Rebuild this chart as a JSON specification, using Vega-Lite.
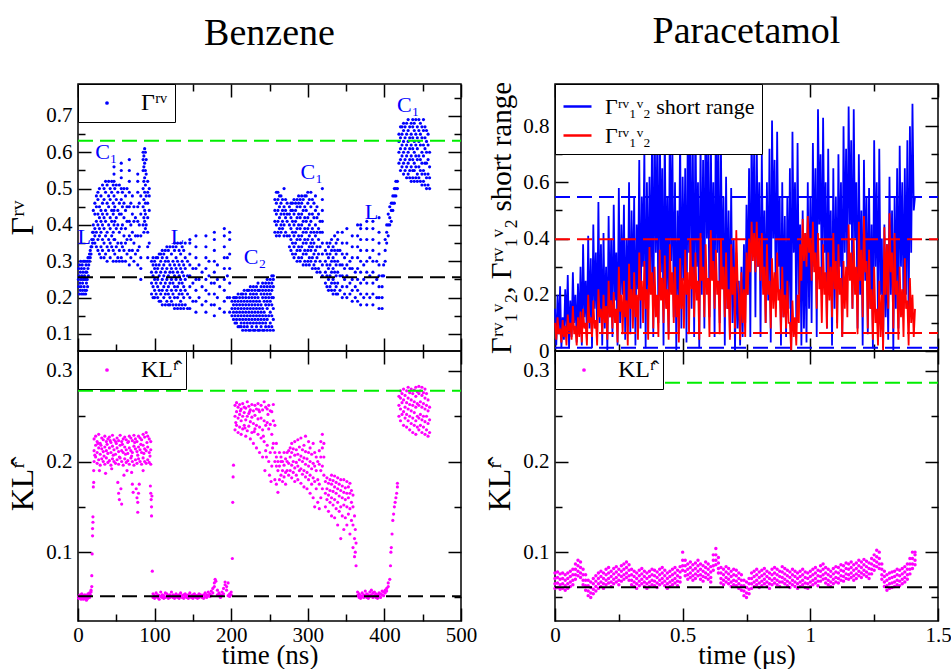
{
"$schema":"https://vega.github.io/schema/vega-lite/v6.json",
"background":"white",
"padding":{"left":6,"top":12,"right":2,"bottom":0},
"config":{"font":"Liberation Serif","view":{"stroke":"black","strokeWidth":1.5},
"axis":{"labelFont":"Liberation Serif","titleFont":"Liberation Serif","labelColor":"black","titleColor":"black","titleFontWeight":"normal","grid":false,"labelFontSize":21,"labelFlush":false,"labelOverlap":false,"titleLimit":1000},
"legend":{"orient":"top-left","offset":0,"strokeColor":"black","fillColor":"white","padding":7,"labelFont":"Liberation Serif","labelFontSize":24,"labelColor":"black","labelLimit":400,"cornerRadius":0},
"title":{"font":"Liberation Serif","fontSize":38,"fontWeight":"normal","color":"black","anchor":"middle"}},
"spacing":5,
"resolve":{"scale":{"color":"independent"}},
"hconcat":[
{"spacing":0,
"bounds":"flush",
"resolve":{"scale":{"color":"independent"}},
"vconcat":[
{"width":383,"height":267,
"title":{"text":"Benzene","anchor":"middle","frame":"group","offset":30},
"resolve":{"axis":{"x":"independent","y":"independent"}},
"layer":[
{"data":{"values":"t,y\n0.5,.25\n1,.28\n1,.23\n1.5,.26\n2,.21\n2,.29\n2.5,.24\n3,.27\n3,.22\n3.5,.3\n4,.25\n4,.23\n4.5,.28\n5,.21\n5,.26\n5.5,.29\n6,.24\n6,.22\n6.5,.27\n7,.3\n7,.25\n7.5,.21\n8,.28\n8,.23\n8.5,.26\n9,.3\n9,.22\n9.5,.25\n10,.27\n10,.21\n10.5,.29\n11,.24\n11,.22\n11.5,.27\n12,.3\n12,.25\n12.5,.23\n13,.28\n13,.31\n13.5,.26\n14,.29\n14,.31\n15,.3\n15,.32\n16,.31\n16,.33\n17,.34\n17,.32\n18,.36\n18,.34\n19,.38\n19,.35\n20,.36\n20,.4\n20,.44\n20,.38\n22,.35\n22,.39\n22,.43\n22,.46\n22,.37\n24,.34\n24,.38\n24,.41\n24,.45\n24,.48\n26,.33\n26,.36\n26,.4\n26,.43\n26,.47\n26,.49\n28,.32\n28,.37\n28,.42\n28,.45\n28,.5\n28,.39\n30,.34\n30,.38\n30,.41\n30,.44\n30,.48\n30,.31\n32,.33\n32,.36\n32,.4\n32,.46\n32,.51\n32,.43\n34,.31\n34,.35\n34,.39\n34,.42\n34,.47\n34,.5\n36,.32\n36,.37\n36,.41\n36,.44\n36,.49\n36,.52\n38,.3\n38,.34\n38,.38\n38,.43\n38,.46\n38,.51\n40,.33\n40,.36\n40,.4\n40,.45\n40,.48\n40,.52\n42,.31\n42,.35\n42,.39\n42,.42\n42,.47\n42,.5\n44,.34\n44,.37\n44,.41\n44,.44\n44,.49\n44,.52\n46,.3\n46,.33\n46,.38\n46,.43\n46,.46\n46,.51\n47,.36\n47,.4\n47,.44\n47,.48\n47,.52\n47,.54\n47,.56\n48,.32\n48,.36\n48,.41\n48,.45\n48,.5\n50,.3\n50,.34\n50,.39\n50,.42\n50,.47\n50,.51\n52,.31\n52,.35\n52,.4\n52,.44\n52,.49\n54,.3\n54,.33\n54,.38\n54,.43\n54,.46\n54,.51\n56.5,.31\n56.5,.35\n56.5,.39\n56.5,.43\n56.5,.47\n56.5,.5\n56.5,.53\n56.5,.55\n56.5,.57\n58,.3\n58,.34\n58,.4\n58,.45\n58,.49\n60,.33\n60,.37\n60,.42\n60,.46\n60,.5\n62,.3\n62,.35\n62,.39\n62,.44\n62,.48\n64,.32\n64,.36\n64,.41\n64,.45\n64,.5\n67,.29\n67,.33\n67,.37\n67,.41\n67,.45\n67,.49\n67,.52\n67,.55\n67,.58\n69,.31\n69,.36\n69,.4\n69,.46\n71,.33\n71,.38\n71,.43\n71,.48\n73,.3\n73,.35\n73,.41\n73,.45\n75,.32\n75,.37\n75,.42\n78,.29\n78,.33\n78,.37\n78,.41\n78,.45\n78,.49\n78,.52\n78,.54\n80,.34\n80,.4\n80,.46\n82,.25\n82,.28\n82,.31\n82,.37\n82,.43\n82,.48\n85,.4\n85,.45\n85,.5\n85,.55\n85,.58\n85,.6\n86,.38\n86,.42\n86,.47\n86,.52\n86,.56\n86,.59\n87,.41\n87,.44\n87,.49\n87,.53\n87,.57\n87,.61\n88,.39\n88,.43\n88,.46\n88,.51\n88,.55\n88,.6\n89,.4\n89,.48\n89,.54\n89,.58\n91,.31\n91,.34\n91,.38\n91,.42\n91,.46\n91,.49\n91,.52\n93,.35\n93,.44\n93,.48\n93,.5\n96,.21\n96,.24\n96,.27\n96,.3\n98,.2\n98,.23\n98,.26\n98,.29\n98,.31\n100,.2\n100,.22\n100,.25\n100,.28\n100,.3\n102,.21\n102,.24\n102,.27\n102,.29\n102,.31\n104,.2\n104,.23\n104,.25\n104,.28\n104,.31\n106,.19\n106,.22\n106,.26\n106,.29\n106,.32\n108,.19\n108,.21\n108,.24\n108,.27\n108,.3\n108,.32\n110,.18\n110,.22\n110,.25\n110,.28\n110,.31\n110,.33\n112,.2\n112,.23\n112,.26\n112,.29\n112,.32\n114,.18\n114,.21\n114,.24\n114,.27\n114,.3\n114,.33\n116,.19\n116,.22\n116,.25\n116,.28\n116,.31\n116,.34\n118,.18\n118,.21\n118,.23\n118,.26\n118,.3\n118,.33\n120,.18\n120,.2\n120,.24\n120,.27\n120,.29\n120,.34\n122,.19\n122,.22\n122,.25\n122,.28\n122,.32\n124,.18\n124,.21\n124,.24\n124,.27\n124,.3\n124,.34\n126,.17\n126,.2\n126,.23\n126,.26\n126,.29\n126,.33\n126,.35\n128,.18\n128,.22\n128,.25\n128,.28\n128,.31\n128,.34\n130,.17\n130,.2\n130,.23\n130,.27\n130,.3\n130,.35\n132,.18\n132,.21\n132,.24\n132,.26\n132,.29\n132,.33\n134,.17\n134,.19\n134,.22\n134,.25\n134,.28\n134,.32\n134,.35\n136,.18\n136,.21\n136,.24\n136,.27\n136,.3\n136,.34\n138,.17\n138,.2\n138,.23\n138,.26\n138,.29\n138,.33\n140,.18\n140,.22\n140,.25\n140,.28\n140,.31\n140,.35\n143,.17\n143,.21\n143,.26\n143,.3\n146,.17\n146,.2\n146,.23\n146,.26\n146,.29\n146,.32\n146,.35\n146,.36\n150,.19\n150,.24\n150,.28\n154,.16\n154,.19\n154,.22\n154,.25\n154,.28\n154,.31\n154,.34\n154,.37\n158,.2\n158,.25\n158,.29\n162,.18\n162,.23\n162,.27\n167,.16\n167,.19\n167,.22\n167,.25\n167,.28\n167,.31\n167,.34\n167,.37\n171,.21\n171,.26\n171,.3\n174,.18\n174,.24\n178,.15\n178,.18\n178,.21\n178,.24\n178,.27\n178,.3\n178,.33\n178,.36\n178,.38\n182,.2\n182,.25\n182,.29\n185,.17\n185,.23\n191,.16\n191,.19\n191,.22\n191,.25\n191,.28\n191,.31\n191,.34\n191,.37\n191,.39\n195,.2\n195,.26\n195,.31\n198,.16\n198,.2\n198,.24\n198,.28\n198,.32\n198,.36\n198,.38\n201,.15\n201,.17\n201,.19\n203,.14\n203,.16\n203,.18\n203,.2\n205,.13\n205,.15\n205,.17\n205,.19\n205,.2\n207,.13\n207,.14\n207,.16\n207,.18\n207,.2\n209,.12\n209,.15\n209,.17\n209,.19\n209,.21\n211,.12\n211,.14\n211,.16\n211,.18\n211,.2\n213,.12\n213,.13\n213,.15\n213,.17\n213,.19\n213,.21\n215,.11\n215,.14\n215,.16\n215,.18\n215,.2\n215,.21\n217,.12\n217,.13\n217,.15\n217,.17\n217,.19\n217,.22\n219,.11\n219,.14\n219,.16\n219,.18\n219,.2\n219,.21\n221,.12\n221,.13\n221,.15\n221,.17\n221,.19\n221,.22\n223,.11\n223,.14\n223,.16\n223,.18\n223,.2\n223,.22\n225,.11\n225,.13\n225,.15\n225,.17\n225,.19\n225,.21\n225,.23\n227,.12\n227,.14\n227,.16\n227,.18\n227,.2\n227,.22\n229,.11\n229,.13\n229,.15\n229,.17\n229,.19\n229,.21\n229,.23\n231,.11\n231,.14\n231,.16\n231,.18\n231,.2\n231,.22\n233,.12\n233,.13\n233,.15\n233,.17\n233,.19\n233,.21\n233,.23\n235,.11\n235,.14\n235,.16\n235,.18\n235,.2\n235,.22\n235,.24\n237,.11\n237,.13\n237,.15\n237,.17\n237,.19\n237,.22\n239,.12\n239,.14\n239,.16\n239,.18\n239,.21\n239,.23\n241,.11\n241,.13\n241,.15\n241,.17\n241,.2\n241,.22\n241,.24\n243,.11\n243,.14\n243,.16\n243,.19\n243,.21\n243,.23\n245,.12\n245,.13\n245,.15\n245,.18\n245,.2\n245,.22\n245,.24\n247,.11\n247,.14\n247,.17\n247,.19\n247,.21\n247,.23\n247,.25\n249,.12\n249,.15\n249,.18\n249,.2\n249,.22\n249,.24\n251,.11\n251,.13\n251,.16\n251,.19\n251,.21\n251,.23\n251,.25\n253,.12\n253,.15\n253,.18\n253,.2\n253,.22\n253,.24\n253,.26\n255,.11\n255,.14\n255,.17\n255,.2\n255,.23\n255,.25\n255,.26\n257,.38\n257,.41\n257,.44\n257,.47\n259,.37\n259,.4\n259,.43\n259,.46\n259,.49\n261,.38\n261,.41\n261,.44\n261,.47\n261,.49\n263,.37\n263,.39\n263,.42\n263,.45\n263,.48\n265,.38\n265,.4\n265,.43\n265,.46\n265,.48\n267,.39\n267,.41\n267,.44\n267,.47\n269,.37\n269,.4\n269,.43\n269,.45\n269,.5\n271,.38\n271,.42\n271,.44\n271,.47\n273,.37\n273,.41\n273,.43\n273,.46\n276,.34\n276,.37\n276,.4\n276,.43\n276,.45\n278,.33\n278,.36\n278,.39\n278,.42\n278,.44\n278,.46\n280,.32\n280,.35\n280,.38\n280,.41\n280,.44\n280,.46\n282,.31\n282,.34\n282,.37\n282,.4\n282,.43\n282,.47\n284,.32\n284,.35\n284,.38\n284,.41\n284,.44\n284,.46\n286,.3\n286,.33\n286,.36\n286,.39\n286,.42\n286,.45\n286,.47\n288,.31\n288,.34\n288,.37\n288,.4\n288,.43\n288,.46\n288,.48\n290,.3\n290,.33\n290,.36\n290,.39\n290,.42\n290,.45\n290,.47\n292,.31\n292,.34\n292,.37\n292,.4\n292,.43\n292,.46\n292,.48\n294,.29\n294,.32\n294,.35\n294,.38\n294,.41\n294,.44\n294,.47\n296,.3\n296,.33\n296,.36\n296,.39\n296,.42\n296,.45\n296,.48\n298,.29\n298,.32\n298,.35\n298,.38\n298,.41\n298,.44\n298,.48\n300,.3\n300,.33\n300,.36\n300,.39\n300,.42\n300,.46\n300,.49\n302,.29\n302,.31\n302,.34\n302,.37\n302,.4\n302,.43\n302,.47\n304,.3\n304,.33\n304,.35\n304,.38\n304,.41\n304,.45\n304,.49\n306,.28\n306,.31\n306,.34\n306,.36\n306,.39\n306,.43\n306,.47\n308,.29\n308,.32\n308,.35\n308,.38\n308,.42\n308,.46\n310,.28\n310,.3\n310,.33\n310,.37\n310,.4\n310,.44\n310,.48\n312,.27\n312,.31\n312,.34\n312,.38\n312,.42\n312,.45\n314,.28\n314,.32\n314,.36\n314,.39\n314,.43\n316,.27\n316,.3\n316,.34\n316,.38\n316,.41\n319,.26\n319,.29\n319,.32\n319,.35\n319,.38\n319,.41\n319,.44\n319,.47\n319,.5\n323,.24\n323,.27\n323,.3\n323,.33\n325,.23\n325,.26\n325,.29\n325,.32\n325,.35\n327,.22\n327,.25\n327,.28\n327,.31\n327,.34\n329,.23\n329,.26\n329,.29\n329,.32\n329,.35\n331,.22\n331,.24\n331,.27\n331,.3\n331,.33\n331,.36\n333,.21\n333,.25\n333,.28\n333,.31\n333,.34\n335,.22\n335,.24\n335,.27\n335,.3\n335,.33\n335,.37\n337,.21\n337,.23\n337,.26\n337,.29\n337,.32\n337,.35\n339,.21\n339,.24\n339,.27\n339,.3\n339,.33\n339,.36\n339,.38\n342,.22\n342,.26\n342,.29\n342,.33\n345,.2\n345,.23\n345,.26\n345,.29\n345,.32\n345,.35\n345,.38\n348,.21\n348,.25\n348,.28\n348,.31\n351,.2\n351,.23\n351,.26\n351,.29\n351,.32\n351,.35\n351,.39\n355,.21\n355,.24\n355,.28\n355,.3\n358,.19\n358,.22\n358,.25\n358,.28\n358,.31\n358,.34\n358,.37\n362,.2\n362,.23\n362,.27\n365,.19\n365,.22\n365,.25\n365,.28\n365,.31\n365,.34\n365,.37\n365,.4\n369,.18\n369,.21\n369,.24\n369,.27\n369,.3\n369,.33\n369,.36\n369,.39\n369,.4\n373,.2\n373,.25\n373,.29\n377,.18\n377,.21\n377,.24\n377,.27\n377,.3\n377,.33\n377,.36\n377,.39\n377,.41\n381,.2\n381,.26\n381,.31\n385,.18\n385,.21\n385,.24\n385,.27\n385,.3\n385,.33\n385,.36\n385,.39\n385,.41\n390,.2\n390,.25\n390,.3\n393,.17\n393,.2\n393,.23\n393,.26\n393,.29\n393,.32\n393,.35\n393,.38\n393,.42\n397,.17\n397,.2\n397,.23\n397,.26\n399,.26\n399,.29\n401,.3\n401,.33\n401,.36\n403,.35\n403,.38\n403,.4\n405,.37\n405,.4\n405,.43\n407,.4\n407,.42\n407,.45\n409,.41\n409,.44\n409,.46\n411,.44\n411,.46\n411,.48\n413,.46\n413,.48\n413,.5\n415,.48\n415,.5\n415,.52\n417,.5\n417,.52\n419,.57\n419,.6\n419,.63\n419,.65\n421,.55\n421,.58\n421,.61\n421,.64\n421,.67\n423,.56\n423,.59\n423,.62\n423,.65\n423,.67\n425,.54\n425,.57\n425,.6\n425,.63\n425,.66\n425,.68\n427,.55\n427,.58\n427,.61\n427,.64\n427,.67\n429,.53\n429,.56\n429,.59\n429,.62\n429,.65\n429,.68\n431,.54\n431,.57\n431,.6\n431,.63\n431,.66\n431,.69\n433,.53\n433,.55\n433,.58\n433,.61\n433,.64\n433,.67\n435,.52\n435,.56\n435,.59\n435,.62\n435,.65\n435,.68\n437,.53\n437,.55\n437,.58\n437,.61\n437,.64\n437,.67\n437,.69\n439,.52\n439,.55\n439,.57\n439,.6\n439,.63\n439,.66\n439,.68\n441,.53\n441,.56\n441,.59\n441,.62\n441,.65\n441,.69\n443,.52\n443,.54\n443,.58\n443,.61\n443,.64\n443,.67\n445,.53\n445,.56\n445,.59\n445,.63\n445,.66\n445,.69\n447,.52\n447,.55\n447,.58\n447,.62\n447,.65\n447,.68\n449,.51\n449,.54\n449,.57\n449,.6\n449,.64\n449,.67\n451,.52\n451,.55\n451,.59\n451,.62\n451,.66\n451,.69\n453,.51\n453,.54\n453,.57\n453,.61\n453,.64\n453,.67\n455,.5\n455,.53\n455,.57\n455,.6\n455,.63\n455,.66\n457,.51\n457,.54\n457,.58\n457,.62\n457,.65\n459,.5\n459,.53\n459,.56\n459,.6","format":{"type":"csv","parse":{"t":"number","y":"number"}}},
"mark":{"type":"circle","size":10,"opacity":1},
"encoding":{
"x":{"field":"t","type":"quantitative","scale":{"domain":[0,500],"nice":false,"zero":false},"axis":{"orient":"bottom","labels":false,"domain":false,"title":null,"values":[0,50,100,150,200,250,300,350,400,450,500],"tickSize":{"condition":{"test":"datum.value % 100 === 0","value":-13},"value":-7},"tickWidth":1.5,"tickColor":"black"}},
"y":{"field":"y","type":"quantitative","scale":{"domain":[0.053,0.788],"nice":false,"zero":false},"axis":{"orient":"left","ticks":false,"domain":false,"values":[0.1,0.2,0.3,0.4,0.5,0.6,0.7],"format":".1f","labelPadding":6,"title":"Γʳᵛ","titleFontSize":32,"titlePadding":6}},
"color":{"datum":"Γʳᵛ","type":"nominal","scale":{"domain":["Γʳᵛ"],"range":["#0000ff"]},"legend":{"title":null,"symbolType":"circle","symbolSize":14,"symbolOffset":10,"labelOffset":22}}}},
{"data":{"values":[{"y":0.256,"a":0,"b":500}]},
"mark":{"type":"rule","color":"black","strokeDash":[15,7],"strokeWidth":2},
"encoding":{"x":{"field":"a","type":"quantitative","scale":{"domain":[0,500],"nice":false,"zero":false},"axis":{"orient":"top","labels":false,"domain":false,"title":null,"values":[0,50,100,150,200,250,300,350,400,450,500],"tickSize":{"condition":{"test":"datum.value % 100 === 0","value":-13},"value":-7},"tickWidth":1.5,"tickColor":"black"}},"x2":{"field":"b"},
"y":{"field":"y","type":"quantitative","scale":{"domain":[0.053,0.788],"nice":false,"zero":false},"axis":{"orient":"left","labels":false,"domain":false,"title":null,"values":[0.1,0.15,0.2,0.25,0.3,0.35,0.4,0.45,0.5,0.55,0.6,0.65,0.7,0.75],"tickSize":{"condition":{"test":"abs(datum.value*10-round(datum.value*10))<0.001","value":-13},"value":-7},"tickWidth":1.5,"tickColor":"black"}}}},
{"data":{"values":[{"y":0.632,"a":0,"b":500}]},
"mark":{"type":"rule","color":"#00ee00","strokeDash":[15,7],"strokeWidth":2},
"encoding":{"x":{"field":"a","type":"quantitative","scale":{"domain":[0,500],"nice":false,"zero":false},"axis":null},"x2":{"field":"b"},
"y":{"field":"y","type":"quantitative","scale":{"domain":[0.053,0.788],"nice":false,"zero":false},"axis":{"orient":"right","labels":false,"domain":false,"title":null,"values":[0.1,0.15,0.2,0.25,0.3,0.35,0.4,0.45,0.5,0.55,0.6,0.65,0.7,0.75],"tickSize":{"condition":{"test":"abs(datum.value*10-round(datum.value*10))<0.001","value":-13},"value":-7},"tickWidth":1.5,"tickColor":"black"}}}},
{"data":{"values":[{"t":8,"y":0.367,"l":"L"},{"t":37,"y":0.6,"l":"C₁"},{"t":130,"y":0.367,"l":"L"},{"t":231,"y":0.312,"l":"C₂"},{"t":305,"y":0.546,"l":"C₁"},{"t":383,"y":0.436,"l":"L"},{"t":431,"y":0.73,"l":"C₁"}]},
"mark":{"type":"text","font":"Liberation Serif","fontSize":22,"color":"#0000ff","baseline":"middle","align":"center"},
"encoding":{"x":{"field":"t","type":"quantitative","scale":{"domain":[0,500],"nice":false,"zero":false},"axis":null},"y":{"field":"y","type":"quantitative","scale":{"domain":[0.053,0.788],"nice":false,"zero":false},"axis":null},"text":{"field":"l"}}}
]},
{"width":383,"height":270,
"resolve":{"axis":{"x":"independent","y":"independent"}},
"layer":[
{"data":{"values":"t,y\n1,.051\n1,.049\n2,.052\n3,.05\n3,.053\n4,.048\n5,.051\n5,.054\n6,.05\n7,.052\n7,.048\n8,.051\n9,.053\n9,.049\n10,.05\n11,.052\n11,.047\n12,.051\n13,.054\n13,.049\n14,.052\n15,.05\n15,.055\n16,.053\n17,.056\n17,.058\n18,.062\n18,.074\n18.5,.098\n19,.118\n19,.126\n19.5,.133\n19.5,.139\n20,.172\n20.5,.177\n20.5,.19\n21,.2\n21,.212\n21,.225\n23,.205\n23,.218\n23,.228\n25,.198\n25,.21\n25,.222\n27,.202\n27,.215\n27,.23\n29,.196\n29,.208\n29,.22\n31,.203\n31,.214\n31,.226\n33,.2\n33,.211\n33,.224\n35,.197\n35,.216\n35,.228\n37,.204\n37,.212\n37,.222\n39,.199\n39,.209\n39,.225\n41,.201\n41,.215\n41,.227\n43,.196\n43,.21\n43,.221\n45,.203\n45,.217\n45,.229\n47,.2\n47,.213\n47,.224\n49,.198\n49,.208\n49,.222\n51,.202\n51,.215\n51,.226\n53,.197\n53,.211\n53,.223\n55,.204\n55,.218\n55,.229\n57,.2\n57,.212\n57,.222\n59,.196\n59,.21\n59,.225\n61,.203\n61,.216\n61,.227\n63,.199\n63,.213\n63,.224\n65,.201\n65,.209\n65,.221\n67,.197\n67,.215\n67,.228\n69,.204\n69,.212\n69,.226\n71,.2\n71,.21\n71,.223\n73,.196\n73,.217\n73,.229\n75,.202\n75,.214\n75,.225\n77,.198\n77,.211\n77,.222\n79,.203\n79,.216\n79,.228\n81,.2\n81,.213\n81,.226\n83,.197\n83,.21\n83,.224\n85,.204\n85,.218\n85,.23\n87,.2\n87,.214\n87,.227\n89,.198\n89,.212\n89,.232\n91,.202\n91,.216\n91,.228\n93,.199\n93,.21\n93,.225\n95,.197\n95,.213\n95,.222\n22,.207\n26,.22\n30,.218\n34,.206\n38,.219\n42,.223\n46,.207\n50,.22\n54,.205\n58,.219\n62,.208\n66,.222\n70,.206\n74,.221\n78,.207\n82,.219\n86,.209\n90,.221\n94,.206\n28,.19\n36,.187\n44,.192\n52,.177\n53,.165\n54,.158\n56,.17\n57,.153\n60,.185\n64,.19\n70,.188\n71,.175\n72,.166\n76,.17\n77,.16\n78,.144\n78,.155\n79,.165\n80,.175\n85,.19\n94.5,.173\n95,.165\n95.5,.158\n96,.15\n96,.14\n96.5,.162\n97,.079\n98,.054\n98,.05\n100,.052\n100,.049\n102,.055\n102,.051\n104,.05\n104,.053\n106,.052\n106,.048\n108,.056\n108,.051\n110,.05\n110,.053\n112,.052\n112,.049\n114,.055\n114,.05\n116,.051\n116,.054\n118,.049\n118,.052\n120,.053\n120,.05\n122,.051\n122,.056\n124,.05\n124,.053\n126,.052\n126,.049\n128,.054\n128,.051\n130,.05\n130,.052\n132,.053\n132,.049\n134,.051\n134,.055\n136,.05\n136,.052\n138,.053\n138,.049\n140,.051\n140,.054\n142,.05\n142,.052\n144,.053\n144,.049\n146,.051\n146,.055\n148,.05\n148,.052\n150,.053\n150,.049\n152,.051\n152,.054\n154,.05\n154,.052\n156,.052\n156,.049\n158,.054\n158,.05\n160,.051\n160,.053\n162,.05\n162,.052\n164,.053\n164,.049\n166,.051\n166,.055\n168,.05\n168,.053\n170,.052\n170,.056\n172,.054\n172,.051\n174,.057\n174,.052\n176,.055\n176,.06\n178,.062\n178,.066\n179,.07\n180,.068\n182,.058\n182,.053\n184,.052\n184,.055\n186,.05\n186,.053\n188,.056\n188,.052\n190,.06\n190,.054\n192,.064\n192,.067\n194,.062\n194,.058\n196,.066\n196,.052\n198,.054\n198,.051\n200,.053\n200,.056\n201.5,.093\n202,.155\n202.5,.183\n203,.196\n205,.235\n205,.25\n205,.262\n207,.24\n207,.255\n207,.265\n209,.232\n209,.248\n209,.26\n211,.238\n211,.252\n211,.263\n213,.23\n213,.245\n213,.258\n215,.236\n215,.25\n215,.264\n217,.24\n217,.254\n217,.26\n219,.228\n219,.246\n219,.259\n221,.234\n221,.25\n221,.266\n223,.239\n223,.253\n223,.261\n225,.225\n225,.244\n225,.257\n227,.232\n227,.249\n227,.263\n229,.22\n229,.242\n229,.256\n231,.236\n231,.251\n231,.262\n233,.215\n233,.24\n233,.258\n235,.23\n235,.247\n235,.264\n237,.21\n237,.238\n237,.255\n239,.226\n239,.248\n239,.262\n241,.205\n241,.235\n241,.257\n243,.222\n243,.245\n243,.266\n245,.212\n245,.24\n245,.26\n247,.218\n247,.243\n247,.258\n249,.2\n249,.236\n249,.262\n251,.21\n251,.241\n251,.256\n253,.195\n253,.23\n253,.255\n255,.22\n255,.245\n255,.263\n206,.243\n212,.256\n218,.237\n224,.255\n230,.233\n236,.257\n242,.228\n248,.252\n254,.215\n244,.19\n250,.185\n252,.178\n246,.205\n257,.18\n257,.2\n257,.21\n257,.24\n259,.175\n259,.195\n259,.205\n259,.22\n261,.166\n261,.19\n261,.2\n263,.18\n263,.195\n263,.21\n265,.185\n265,.2\n265,.205\n267,.178\n267,.19\n267,.2\n269,.183\n269,.196\n269,.21\n271,.175\n271,.188\n271,.203\n273,.19\n273,.2\n273,.21\n275,.185\n275,.198\n275,.212\n277,.19\n277,.205\n277,.215\n279,.182\n279,.196\n279,.21\n279,.22\n281,.188\n281,.2\n281,.214\n283,.178\n283,.193\n283,.207\n283,.222\n285,.185\n285,.199\n285,.213\n287,.18\n287,.195\n287,.208\n287,.224\n289,.19\n289,.202\n289,.216\n291,.176\n291,.192\n291,.206\n291,.226\n293,.186\n293,.2\n293,.213\n295,.172\n295,.19\n295,.204\n295,.218\n297,.183\n297,.197\n297,.211\n297,.228\n299,.17\n299,.188\n299,.203\n301,.18\n301,.195\n301,.21\n301,.222\n303,.165\n303,.185\n303,.2\n303,.215\n305,.175\n305,.192\n305,.208\n307,.16\n307,.182\n307,.198\n307,.22\n309,.15\n309,.178\n309,.195\n309,.21\n311,.17\n311,.19\n311,.205\n313,.155\n313,.18\n313,.2\n315,.148\n315,.175\n315,.197\n315,.212\n317,.16\n317,.19\n317,.205\n317,.222\n319,.17\n319,.195\n319,.215\n319,.23\n321,.185\n321,.205\n321,.22\n323,.15\n323,.165\n323,.178\n325,.158\n325,.17\n325,.182\n327,.145\n327,.163\n327,.176\n329,.155\n329,.168\n329,.18\n331,.14\n331,.16\n331,.175\n331,.185\n333,.152\n333,.167\n333,.179\n335,.138\n335,.158\n335,.172\n335,.184\n337,.148\n337,.165\n337,.177\n339,.13\n339,.155\n339,.17\n339,.182\n341,.145\n341,.162\n341,.175\n343,.115\n343,.15\n343,.168\n343,.18\n345,.14\n345,.16\n345,.173\n347,.125\n347,.152\n347,.166\n347,.18\n349,.138\n349,.158\n349,.171\n351,.13\n351,.15\n351,.165\n351,.178\n353,.142\n353,.16\n353,.172\n355,.12\n355,.148\n355,.165\n355,.176\n357,.135\n357,.155\n357,.168\n359,.105\n359,.13\n359,.15\n359,.163\n361,.095\n361,.115\n361,.14\n362,.1\n362,.125\n363,.085\n363,.11\n365,.056\n365,.052\n367,.05\n367,.054\n369,.052\n369,.049\n371,.055\n371,.051\n373,.05\n373,.053\n375,.052\n375,.057\n377,.05\n377,.054\n379,.053\n379,.049\n381,.056\n381,.051\n383,.058\n383,.053\n385,.055\n385,.05\n387,.052\n387,.056\n389,.054\n389,.05\n391,.049\n391,.053\n393,.052\n393,.055\n395,.05\n395,.054\n397,.053\n397,.057\n399,.056\n399,.052\n401,.058\n401,.055\n403,.06\n403,.057\n405,.062\n405,.066\n407,.07\n408,.085\n408.5,.1\n409,.105\n410,.12\n411,.135\n412,.142\n413,.15\n414,.155\n415,.16\n416,.165\n417,.172\n417,.176\n419,.25\n419,.262\n419,.272\n421,.245\n421,.258\n421,.27\n421,.278\n423,.252\n423,.265\n423,.275\n425,.24\n425,.255\n425,.268\n425,.28\n427,.248\n427,.26\n427,.273\n429,.238\n429,.252\n429,.265\n429,.278\n431,.245\n431,.258\n431,.27\n431,.282\n433,.235\n433,.25\n433,.263\n433,.276\n435,.242\n435,.256\n435,.268\n435,.28\n437,.232\n437,.248\n437,.262\n437,.275\n439,.24\n439,.254\n439,.266\n439,.279\n441,.23\n441,.245\n441,.26\n441,.272\n441,.282\n443,.238\n443,.25\n443,.264\n443,.277\n445,.235\n445,.248\n445,.262\n445,.275\n445,.283\n447,.24\n447,.252\n447,.266\n447,.278\n449,.232\n449,.246\n449,.26\n449,.273\n449,.282\n451,.238\n451,.25\n451,.264\n451,.276\n453,.23\n453,.244\n453,.258\n453,.27\n453,.28\n455,.235\n455,.25\n455,.262\n455,.275\n457,.228\n457,.242\n457,.256\n457,.268\n459,.232\n459,.246\n459,.26","format":{"type":"csv","parse":{"t":"number","y":"number"}}},
"mark":{"type":"circle","size":10,"opacity":1},
"encoding":{
"x":{"field":"t","type":"quantitative","scale":{"domain":[0,500],"nice":false,"zero":false},"axis":{"orient":"bottom","ticks":false,"domain":false,"values":[0,100,200,300,400,500],"format":"d","labelPadding":3,"title":"time (ns)","titleFontSize":27,"titlePadding":-3}},
"y":{"field":"y","type":"quantitative","scale":{"domain":[0.024,0.322],"nice":false,"zero":false},"axis":{"orient":"left","ticks":false,"domain":false,"values":[0.1,0.2,0.3],"format":".1f","labelPadding":6,"title":"KLʳ̂","titleFontSize":32,"titlePadding":6}},
"color":{"datum":"KLʳ̂","type":"nominal","scale":{"domain":["KLʳ̂"],"range":["#ff00ff"]},"legend":{"title":null,"symbolType":"circle","symbolSize":14,"symbolOffset":10,"labelOffset":22}}}},
{"data":{"values":[{"y":0.0514,"a":0,"b":500}]},
"mark":{"type":"rule","color":"black","strokeDash":[15,7],"strokeWidth":2},
"encoding":{"x":{"field":"a","type":"quantitative","scale":{"domain":[0,500],"nice":false,"zero":false},"axis":{"orient":"bottom","labels":false,"domain":false,"title":null,"values":[0,50,100,150,200,250,300,350,400,450,500],"tickSize":{"condition":{"test":"datum.value % 100 === 0","value":-13},"value":-7},"tickWidth":1.5,"tickColor":"black"}},"x2":{"field":"b"},
"y":{"field":"y","type":"quantitative","scale":{"domain":[0.024,0.322],"nice":false,"zero":false},"axis":{"orient":"left","labels":false,"domain":false,"title":null,"values":[0.05,0.1,0.15,0.2,0.25,0.3],"tickSize":{"condition":{"test":"abs(datum.value*10-round(datum.value*10))<0.001","value":-13},"value":-7},"tickWidth":1.5,"tickColor":"black"}}}},
{"data":{"values":[{"y":0.278,"a":0,"b":500}]},
"mark":{"type":"rule","color":"#00ee00","strokeDash":[15,7],"strokeWidth":2},
"encoding":{"x":{"field":"a","type":"quantitative","scale":{"domain":[0,500],"nice":false,"zero":false},"axis":{"orient":"top","labels":false,"domain":false,"title":null,"values":[0,50,100,150,200,250,300,350,400,450,500],"tickSize":{"condition":{"test":"datum.value % 100 === 0","value":-13},"value":-7},"tickWidth":1.5,"tickColor":"black"}},"x2":{"field":"b"},
"y":{"field":"y","type":"quantitative","scale":{"domain":[0.024,0.322],"nice":false,"zero":false},"axis":{"orient":"right","labels":false,"domain":false,"title":null,"values":[0.05,0.1,0.15,0.2,0.25,0.3],"tickSize":{"condition":{"test":"abs(datum.value*10-round(datum.value*10))<0.001","value":-13},"value":-7},"tickWidth":1.5,"tickColor":"black"}}}}
]}
]},
{"spacing":0,
"bounds":"flush",
"resolve":{"scale":{"color":"independent"}},
"vconcat":[
{"width":383,"height":267,
"title":{"text":"Paracetamol","anchor":"middle","frame":"group","offset":30},
"resolve":{"axis":{"x":"independent","y":"independent"}},
"layer":[
{"data":{"values":"t,y\n0,.15\n0.005,.02\n0.01,.2\n0.015,.06\n0.02,.23\n0.025,.01\n0.03,.12\n0.035,.04\n0.04,.22\n0.045,.08\n0.05,.27\n0.055,.01\n0.06,.18\n0.065,.05\n0.07,.28\n0.075,.1\n0.08,.2\n0.085,.03\n0.09,.24\n0.095,.06\n0.1,.3\n0.105,.02\n0.11,.38\n0.115,.12\n0.12,.25\n0.125,.04\n0.13,.41\n0.135,.08\n0.14,.33\n0.145,.01\n0.15,.45\n0.155,.15\n0.16,.35\n0.165,.05\n0.17,.53\n0.175,.1\n0.18,.38\n0.185,.02\n0.19,.42\n0.195,.08\n0.2,.3\n0.205,0\n0.21,.48\n0.215,.12\n0.22,.4\n0.225,.05\n0.23,.52\n0.235,.18\n0.24,.35\n0.245,.02\n0.25,.58\n0.255,.1\n0.26,.45\n0.265,.2\n0.27,.52\n0.275,.04\n0.28,.4\n0.285,.12\n0.29,.6\n0.295,.06\n0.3,.5\n0.305,.15\n0.31,.55\n0.315,.02\n0.32,.45\n0.325,.22\n0.33,.68\n0.335,.08\n0.34,.55\n0.345,.3\n0.35,.72\n0.355,.01\n0.36,.6\n0.365,.15\n0.37,.62\n0.375,.25\n0.38,.75\n0.385,.05\n0.39,.85\n0.395,.35\n0.4,.7\n0.405,.1\n0.41,.9\n0.415,.28\n0.42,.65\n0.425,.02\n0.43,.8\n0.435,.2\n0.44,.55\n0.445,.06\n0.45,.88\n0.455,.32\n0.46,.7\n0.465,.12\n0.47,.6\n0.475,0\n0.48,.5\n0.485,.18\n0.49,.78\n0.495,.08\n0.5,.62\n0.505,.25\n0.51,.65\n0.515,.03\n0.52,.8\n0.525,.35\n0.53,.9\n0.535,.15\n0.54,.7\n0.545,.05\n0.55,.85\n0.555,.3\n0.56,.6\n0.565,.01\n0.57,.75\n0.575,.2\n0.58,.68\n0.585,.08\n0.59,.92\n0.595,.4\n0.6,.7\n0.605,.12\n0.61,.8\n0.615,.28\n0.62,.6\n0.625,.05\n0.63,.88\n0.635,.35\n0.64,.75\n0.645,.1\n0.65,.72\n0.655,.22\n0.66,.55\n0.665,.02\n0.67,.62\n0.675,.15\n0.68,.5\n0.685,.05\n0.69,.58\n0.695,.1\n0.7,.4\n0.705,0\n0.71,.35\n0.715,.08\n0.72,.25\n0.725,.02\n0.73,.3\n0.735,.05\n0.74,.38\n0.745,.1\n0.75,.52\n0.755,.2\n0.76,.65\n0.765,.05\n0.77,.8\n0.775,.35\n0.78,.72\n0.785,.12\n0.79,.75\n0.795,.3\n0.8,.6\n0.805,.05\n0.81,.7\n0.815,.25\n0.82,.5\n0.825,.1\n0.83,.6\n0.835,.18\n0.84,.72\n0.845,.03\n0.85,.82\n0.855,.4\n0.86,.68\n0.865,.15\n0.87,.78\n0.875,.3\n0.88,.55\n0.885,.02\n0.89,.6\n0.895,.12\n0.9,.48\n0.905,.05\n0.91,.55\n0.915,.15\n0.92,.65\n0.925,0\n0.93,.78\n0.935,.35\n0.94,.6\n0.945,.1\n0.95,.74\n0.955,.2\n0.96,.45\n0.965,.02\n0.97,.5\n0.975,.08\n0.98,.42\n0.985,.03\n0.99,.6\n0.995,.15\n1,.55\n1.005,.1\n1.01,.74\n1.015,.3\n1.02,.65\n1.025,.05\n1.03,.86\n1.035,.45\n1.04,.7\n1.045,.2\n1.05,.83\n1.055,.35\n1.06,.6\n1.065,.08\n1.07,.72\n1.075,.25\n1.08,.5\n1.085,.02\n1.09,.65\n1.095,.15\n1.1,.55\n1.105,.1\n1.11,.7\n1.115,.3\n1.12,.6\n1.125,.05\n1.13,.8\n1.135,.35\n1.14,.72\n1.145,.25\n1.15,.87\n1.155,.45\n1.16,.75\n1.165,.15\n1.17,.86\n1.175,.4\n1.18,.6\n1.185,.08\n1.19,.7\n1.195,.2\n1.2,.5\n1.205,.02\n1.21,.68\n1.215,.25\n1.22,.55\n1.225,.06\n1.23,.58\n1.235,.15\n1.24,.45\n1.245,.01\n1.25,.75\n1.255,.3\n1.26,.6\n1.265,.1\n1.27,.72\n1.275,.2\n1.28,.4\n1.285,.01\n1.29,.45\n1.295,.12\n1.3,.38\n1.305,.04\n1.31,.62\n1.315,.2\n1.32,.5\n1.325,0\n1.33,.55\n1.335,.15\n1.34,.65\n1.345,.08\n1.35,.73\n1.355,.3\n1.36,.6\n1.365,.15\n1.37,.65\n1.375,.2\n1.38,.75\n1.385,.1\n1.39,.8\n1.395,.35\n1.4,.88\n1.405,.5\n1.41,.55","format":{"type":"csv","parse":{"t":"number","y":"number"}}},
"mark":{"type":"line","strokeWidth":1.8},
"encoding":{
"x":{"field":"t","type":"quantitative","scale":{"domain":[0,1.5],"nice":false,"zero":false},"axis":{"orient":"bottom","labels":false,"domain":false,"title":null,"values":[0,0.25,0.5,0.75,1,1.25,1.5],"tickSize":{"condition":{"test":"abs(datum.value*2-round(datum.value*2))<0.001","value":-13},"value":-7},"tickWidth":1.5,"tickColor":"black"}},
"y":{"field":"y","type":"quantitative","scale":{"domain":[0,0.95],"nice":false,"zero":false},"axis":{"orient":"left","ticks":false,"domain":false,"values":[0,0.2,0.4,0.6,0.8],"format":".1~f","labelPadding":6,"title":"Γʳᵛ₁ᵛ₂, Γʳᵛ₁ᵛ₂ short range","titleFontSize":29,"titlePadding":6}},
"color":{"datum":"Γʳᵛ₁ᵛ₂ short range","type":"nominal","scale":{"domain":["Γʳᵛ₁ᵛ₂ short range","Γʳᵛ₁ᵛ₂"],"range":["#0000ff","#ff0000"]},"legend":{"title":null,"symbolType":"stroke","symbolSize":784,"symbolStrokeWidth":2.5,"labelOffset":12,"rowPadding":2,"labelFontSize":22}}}},
{"data":{"values":"t,y\n0,.1\n0.005,.04\n0.01,.12\n0.015,.06\n0.02,.08\n0.025,.03\n0.03,.11\n0.035,.05\n0.04,.09\n0.045,.02\n0.05,.13\n0.055,.07\n0.06,.1\n0.065,.04\n0.07,.16\n0.075,.06\n0.08,.09\n0.085,.02\n0.09,.12\n0.095,.05\n0.1,.14\n0.105,.03\n0.11,.15\n0.115,.08\n0.12,.1\n0.125,.02\n0.13,.2\n0.135,.1\n0.14,.12\n0.145,.05\n0.15,.18\n0.155,.08\n0.16,.11\n0.165,.02\n0.17,.22\n0.175,.12\n0.18,.15\n0.185,.06\n0.19,.2\n0.195,.1\n0.2,.16\n0.205,.04\n0.21,.25\n0.215,.12\n0.22,.18\n0.225,.08\n0.23,.21\n0.235,.1\n0.24,.15\n0.245,.03\n0.25,.3\n0.255,.14\n0.26,.2\n0.265,.06\n0.27,.25\n0.275,.12\n0.28,.18\n0.285,.02\n0.29,.31\n0.295,.15\n0.3,.22\n0.305,.08\n0.31,.28\n0.315,.12\n0.32,.2\n0.325,.04\n0.33,.35\n0.335,.18\n0.34,.25\n0.345,.1\n0.35,.32\n0.355,.15\n0.36,.22\n0.365,.04\n0.37,.37\n0.375,.2\n0.38,.28\n0.385,.08\n0.39,.3\n0.395,.12\n0.4,.2\n0.405,.05\n0.41,.36\n0.415,.18\n0.42,.26\n0.425,.1\n0.43,.34\n0.435,.15\n0.44,.22\n0.445,.04\n0.45,.38\n0.455,.2\n0.46,.28\n0.465,.1\n0.47,.3\n0.475,.12\n0.48,.2\n0.485,.03\n0.49,.33\n0.495,.15\n0.5,.26\n0.505,.08\n0.51,.36\n0.515,.2\n0.52,.28\n0.525,.06\n0.53,.4\n0.535,.22\n0.54,.3\n0.545,.12\n0.55,.35\n0.555,.18\n0.56,.25\n0.565,.04\n0.57,.42\n0.575,.25\n0.58,.3\n0.585,.12\n0.59,.38\n0.595,.2\n0.6,.26\n0.605,.05\n0.61,.43\n0.615,.25\n0.62,.32\n0.625,.15\n0.63,.36\n0.635,.2\n0.64,.25\n0.645,.06\n0.65,.4\n0.655,.22\n0.66,.3\n0.665,.12\n0.67,.35\n0.675,.15\n0.68,.22\n0.685,.04\n0.69,.38\n0.695,.2\n0.7,.3\n0.705,.08\n0.71,.43\n0.715,.25\n0.72,.2\n0.725,.04\n0.73,.28\n0.735,.1\n0.74,.22\n0.745,.05\n0.75,.35\n0.755,.2\n0.76,.4\n0.765,.28\n0.77,.46\n0.775,.32\n0.78,.42\n0.785,.28\n0.79,.46\n0.795,.3\n0.8,.4\n0.805,.25\n0.81,.42\n0.815,.2\n0.82,.3\n0.825,.1\n0.83,.38\n0.835,.2\n0.84,.25\n0.845,.08\n0.85,.33\n0.855,.15\n0.86,.28\n0.865,.12\n0.87,.35\n0.875,.18\n0.88,.22\n0.885,.06\n0.89,.3\n0.895,.12\n0.9,.2\n0.905,.08\n0.91,.25\n0.915,.1\n0.92,.1\n0.925,0\n0.93,.18\n0.935,.05\n0.94,.12\n0.945,.02\n0.95,.2\n0.955,.1\n0.96,.38\n0.965,.25\n0.97,.47\n0.975,.32\n0.98,.42\n0.985,.3\n0.99,.48\n0.995,.35\n1,.4\n1.005,.25\n1.01,.46\n1.015,.28\n1.02,.35\n1.025,.15\n1.03,.42\n1.035,.22\n1.04,.3\n1.045,.1\n1.05,.38\n1.055,.2\n1.06,.28\n1.065,.08\n1.07,.35\n1.075,.18\n1.08,.3\n1.085,.12\n1.09,.42\n1.095,.22\n1.1,.32\n1.105,.08\n1.11,.38\n1.115,.2\n1.12,.26\n1.125,.05\n1.13,.32\n1.135,.15\n1.14,.3\n1.145,.12\n1.15,.45\n1.155,.25\n1.16,.35\n1.165,.15\n1.17,.4\n1.175,.2\n1.18,.3\n1.185,.06\n1.19,.46\n1.195,.25\n1.2,.36\n1.205,.12\n1.21,.48\n1.215,.28\n1.22,.32\n1.225,.08\n1.23,.36\n1.235,.15\n1.24,.22\n1.245,.04\n1.25,.3\n1.255,.1\n1.26,.15\n1.265,.02\n1.27,.25\n1.275,.05\n1.28,.2\n1.285,0\n1.29,.44\n1.295,.2\n1.3,.38\n1.305,.15\n1.31,.49\n1.315,.28\n1.32,.35\n1.325,.08\n1.33,.42\n1.335,.2\n1.34,.25\n1.345,.04\n1.35,.3\n1.355,.12\n1.36,.22\n1.365,.05\n1.37,.33\n1.375,.15\n1.38,.18\n1.385,.02\n1.39,.26\n1.395,.1\n1.4,.2\n1.405,.05\n1.41,.15","format":{"type":"csv","parse":{"t":"number","y":"number"}}},
"mark":{"type":"line","strokeWidth":1.8},
"encoding":{
"x":{"field":"t","type":"quantitative","scale":{"domain":[0,1.5],"nice":false,"zero":false},"axis":{"orient":"top","labels":false,"domain":false,"title":null,"values":[0,0.25,0.5,0.75,1,1.25,1.5],"tickSize":{"condition":{"test":"abs(datum.value*2-round(datum.value*2))<0.001","value":-13},"value":-7},"tickWidth":1.5,"tickColor":"black"}},
"y":{"field":"y","type":"quantitative","scale":{"domain":[0,0.95],"nice":false,"zero":false},"axis":{"orient":"left","labels":false,"domain":false,"title":null,"values":[0,0.1,0.2,0.3,0.4,0.5,0.6,0.7,0.8,0.9],"tickSize":{"condition":{"test":"abs(datum.value*5-round(datum.value*5))<0.001","value":-13},"value":-7},"tickWidth":1.5,"tickColor":"black"}},
"color":{"datum":"Γʳᵛ₁ᵛ₂","type":"nominal","scale":{"domain":["Γʳᵛ₁ᵛ₂ short range","Γʳᵛ₁ᵛ₂"],"range":["#0000ff","#ff0000"]}}}},
{"data":{"values":[{"y":0.548,"c":"#0000ff","a":0,"b":1.5},{"y":0.012,"c":"#0000ff","a":0,"b":1.5},{"y":0.398,"c":"#ff0000","a":0,"b":1.5},{"y":0.064,"c":"#ff0000","a":0,"b":1.5}]},
"mark":{"type":"rule","strokeDash":[15,7],"strokeWidth":2},
"encoding":{"x":{"field":"a","type":"quantitative","scale":{"domain":[0,1.5],"nice":false,"zero":false},"axis":null},"x2":{"field":"b"},
"y":{"field":"y","type":"quantitative","scale":{"domain":[0,0.95],"nice":false,"zero":false},"axis":{"orient":"right","labels":false,"domain":false,"title":null,"values":[0,0.1,0.2,0.3,0.4,0.5,0.6,0.7,0.8,0.9],"tickSize":{"condition":{"test":"abs(datum.value*5-round(datum.value*5))<0.001","value":-13},"value":-7},"tickWidth":1.5,"tickColor":"black"}},
"stroke":{"field":"c","type":"nominal","scale":null}}}
]},
{"width":383,"height":270,
"resolve":{"axis":{"x":"independent","y":"independent"}},
"layer":[
{"data":{"values":"t,y\n0,.077\n0,.071\n0,.065\n0,.06\n0.01,.078\n0.01,.072\n0.01,.066\n0.01,.061\n0.02,.076\n0.02,.07\n0.02,.064\n0.02,.059\n0.03,.077\n0.03,.071\n0.03,.065\n0.03,.06\n0.04,.075\n0.04,.069\n0.04,.063\n0.04,.058\n0.05,.077\n0.05,.071\n0.05,.065\n0.05,.06\n0.06,.079\n0.06,.073\n0.06,.067\n0.06,.062\n0.07,.081\n0.07,.075\n0.07,.069\n0.07,.064\n0.08,.087\n0.08,.081\n0.08,.075\n0.08,.07\n0.09,.091\n0.09,.085\n0.09,.079\n0.09,.074\n0.1,.089\n0.1,.083\n0.1,.077\n0.1,.072\n0.11,.081\n0.11,.075\n0.11,.069\n0.11,.064\n0.12,.075\n0.12,.069\n0.12,.063\n0.12,.058\n0.13,.069\n0.13,.063\n0.13,.057\n0.13,.052\n0.14,.067\n0.14,.061\n0.14,.055\n0.14,.05\n0.15,.071\n0.15,.065\n0.15,.059\n0.15,.054\n0.16,.074\n0.16,.068\n0.16,.062\n0.16,.057\n0.17,.077\n0.17,.071\n0.17,.065\n0.17,.06\n0.18,.079\n0.18,.073\n0.18,.067\n0.18,.062\n0.19,.077\n0.19,.071\n0.19,.065\n0.19,.06\n0.2,.081\n0.2,.075\n0.2,.069\n0.2,.064\n0.21,.083\n0.21,.077\n0.21,.071\n0.21,.066\n0.22,.079\n0.22,.073\n0.22,.067\n0.22,.062\n0.23,.082\n0.23,.076\n0.23,.07\n0.23,.065\n0.24,.084\n0.24,.078\n0.24,.072\n0.24,.067\n0.25,.081\n0.25,.075\n0.25,.069\n0.25,.064\n0.26,.085\n0.26,.079\n0.26,.073\n0.26,.068\n0.27,.087\n0.27,.081\n0.27,.075\n0.27,.07\n0.28,.089\n0.28,.083\n0.28,.077\n0.28,.072\n0.29,.086\n0.29,.08\n0.29,.074\n0.29,.069\n0.3,.081\n0.3,.075\n0.3,.069\n0.3,.064\n0.31,.079\n0.31,.073\n0.31,.067\n0.31,.062\n0.32,.077\n0.32,.071\n0.32,.065\n0.32,.06\n0.33,.08\n0.33,.074\n0.33,.068\n0.33,.063\n0.34,.082\n0.34,.076\n0.34,.07\n0.34,.065\n0.35,.079\n0.35,.073\n0.35,.067\n0.35,.062\n0.36,.077\n0.36,.071\n0.36,.065\n0.36,.06\n0.37,.079\n0.37,.073\n0.37,.067\n0.37,.062\n0.38,.081\n0.38,.075\n0.38,.069\n0.38,.064\n0.39,.08\n0.39,.074\n0.39,.068\n0.39,.063\n0.4,.078\n0.4,.072\n0.4,.066\n0.4,.061\n0.41,.081\n0.41,.075\n0.41,.069\n0.41,.064\n0.42,.083\n0.42,.077\n0.42,.071\n0.42,.066\n0.43,.08\n0.43,.074\n0.43,.068\n0.43,.063\n0.44,.077\n0.44,.071\n0.44,.065\n0.44,.06\n0.45,.079\n0.45,.073\n0.45,.067\n0.45,.062\n0.46,.081\n0.46,.075\n0.46,.069\n0.46,.064\n0.47,.083\n0.47,.077\n0.47,.071\n0.47,.066\n0.48,.08\n0.48,.074\n0.48,.068\n0.48,.063\n0.49,.084\n0.49,.078\n0.49,.072\n0.49,.067\n0.5,.1\n0.5,.091\n0.5,.085\n0.5,.08\n0.51,.091\n0.51,.085\n0.51,.079\n0.51,.074\n0.52,.087\n0.52,.081\n0.52,.075\n0.52,.07\n0.53,.089\n0.53,.083\n0.53,.077\n0.53,.072\n0.54,.086\n0.54,.08\n0.54,.074\n0.54,.069\n0.55,.088\n0.55,.082\n0.55,.076\n0.55,.071\n0.56,.091\n0.56,.085\n0.56,.079\n0.56,.074\n0.57,.087\n0.57,.081\n0.57,.075\n0.57,.07\n0.58,.085\n0.58,.079\n0.58,.073\n0.58,.068\n0.59,.089\n0.59,.083\n0.59,.077\n0.59,.072\n0.6,.087\n0.6,.081\n0.6,.075\n0.6,.07\n0.61,.084\n0.61,.078\n0.61,.072\n0.61,.067\n0.62,.097\n0.62,.091\n0.62,.085\n0.62,.08\n0.63,.104\n0.63,.097\n0.63,.091\n0.63,.086\n0.64,.094\n0.64,.088\n0.64,.082\n0.64,.077\n0.65,.083\n0.65,.077\n0.65,.071\n0.65,.066\n0.66,.081\n0.66,.075\n0.66,.069\n0.66,.064\n0.67,.084\n0.67,.078\n0.67,.072\n0.67,.067\n0.68,.082\n0.68,.076\n0.68,.07\n0.68,.065\n0.69,.079\n0.69,.073\n0.69,.067\n0.69,.062\n0.7,.081\n0.7,.075\n0.7,.069\n0.7,.064\n0.71,.08\n0.71,.074\n0.71,.068\n0.71,.063\n0.72,.077\n0.72,.071\n0.72,.065\n0.72,.06\n0.73,.075\n0.73,.069\n0.73,.063\n0.73,.058\n0.74,.069\n0.74,.063\n0.74,.057\n0.74,.052\n0.75,.067\n0.75,.061\n0.75,.055\n0.75,.05\n0.76,.071\n0.76,.065\n0.76,.059\n0.76,.054\n0.77,.077\n0.77,.071\n0.77,.065\n0.77,.06\n0.78,.079\n0.78,.073\n0.78,.067\n0.78,.062\n0.79,.081\n0.79,.075\n0.79,.069\n0.79,.064\n0.8,.078\n0.8,.072\n0.8,.066\n0.8,.061\n0.81,.08\n0.81,.074\n0.81,.068\n0.81,.063\n0.82,.082\n0.82,.076\n0.82,.07\n0.82,.065\n0.83,.079\n0.83,.073\n0.83,.067\n0.83,.062\n0.84,.077\n0.84,.071\n0.84,.065\n0.84,.06\n0.85,.081\n0.85,.075\n0.85,.069\n0.85,.064\n0.86,.083\n0.86,.077\n0.86,.071\n0.86,.066\n0.87,.081\n0.87,.075\n0.87,.069\n0.87,.064\n0.88,.079\n0.88,.073\n0.88,.067\n0.88,.062\n0.89,.084\n0.89,.078\n0.89,.072\n0.89,.067\n0.9,.082\n0.9,.076\n0.9,.07\n0.9,.065\n0.91,.08\n0.91,.074\n0.91,.068\n0.91,.063\n0.92,.078\n0.92,.072\n0.92,.066\n0.92,.061\n0.93,.081\n0.93,.075\n0.93,.069\n0.93,.064\n0.94,.079\n0.94,.073\n0.94,.067\n0.94,.062\n0.95,.077\n0.95,.071\n0.95,.065\n0.95,.06\n0.96,.079\n0.96,.073\n0.96,.067\n0.96,.062\n0.97,.081\n0.97,.075\n0.97,.069\n0.97,.064\n0.98,.078\n0.98,.072\n0.98,.066\n0.98,.061\n0.99,.077\n0.99,.071\n0.99,.065\n0.99,.06\n1,.079\n1,.073\n1,.067\n1,.062\n1.01,.081\n1.01,.075\n1.01,.069\n1.01,.064\n1.02,.083\n1.02,.077\n1.02,.071\n1.02,.066\n1.03,.08\n1.03,.074\n1.03,.068\n1.03,.063\n1.04,.085\n1.04,.079\n1.04,.073\n1.04,.068\n1.05,.087\n1.05,.081\n1.05,.075\n1.05,.07\n1.06,.083\n1.06,.077\n1.06,.071\n1.06,.066\n1.07,.081\n1.07,.075\n1.07,.069\n1.07,.064\n1.08,.079\n1.08,.073\n1.08,.067\n1.08,.062\n1.09,.082\n1.09,.076\n1.09,.07\n1.09,.065\n1.1,.084\n1.1,.078\n1.1,.072\n1.1,.067\n1.11,.083\n1.11,.077\n1.11,.071\n1.11,.066\n1.12,.086\n1.12,.08\n1.12,.074\n1.12,.069\n1.13,.085\n1.13,.079\n1.13,.073\n1.13,.068\n1.14,.088\n1.14,.082\n1.14,.076\n1.14,.071\n1.15,.087\n1.15,.081\n1.15,.075\n1.15,.07\n1.16,.089\n1.16,.083\n1.16,.077\n1.16,.072\n1.17,.086\n1.17,.08\n1.17,.074\n1.17,.069\n1.18,.088\n1.18,.082\n1.18,.076\n1.18,.071\n1.19,.091\n1.19,.085\n1.19,.079\n1.19,.074\n1.2,.089\n1.2,.083\n1.2,.077\n1.2,.072\n1.21,.092\n1.21,.086\n1.21,.08\n1.21,.075\n1.22,.09\n1.22,.084\n1.22,.078\n1.22,.073\n1.23,.088\n1.23,.082\n1.23,.076\n1.23,.071\n1.24,.093\n1.24,.087\n1.24,.081\n1.24,.076\n1.25,.097\n1.25,.091\n1.25,.085\n1.25,.08\n1.26,.102\n1.26,.095\n1.26,.089\n1.26,.084\n1.27,.1\n1.27,.093\n1.27,.087\n1.27,.082\n1.28,.087\n1.28,.081\n1.28,.075\n1.28,.07\n1.29,.079\n1.29,.073\n1.29,.067\n1.29,.062\n1.3,.075\n1.3,.069\n1.3,.063\n1.3,.058\n1.31,.077\n1.31,.071\n1.31,.065\n1.31,.06\n1.32,.078\n1.32,.072\n1.32,.066\n1.32,.061\n1.33,.079\n1.33,.073\n1.33,.067\n1.33,.062\n1.34,.081\n1.34,.075\n1.34,.069\n1.34,.064\n1.35,.08\n1.35,.074\n1.35,.068\n1.35,.063\n1.36,.082\n1.36,.076\n1.36,.07\n1.36,.065\n1.37,.084\n1.37,.078\n1.37,.072\n1.37,.067\n1.38,.087\n1.38,.081\n1.38,.075\n1.38,.07\n1.39,.093\n1.39,.087\n1.39,.081\n1.39,.076\n1.4,.1\n1.4,.093\n1.4,.087\n1.4,.082\n1.41,.1\n1.41,.097\n1.41,.091\n1.41,.086","format":{"type":"csv","parse":{"t":"number","y":"number"}}},
"mark":{"type":"circle","size":12,"opacity":1},
"encoding":{
"x":{"field":"t","type":"quantitative","scale":{"domain":[0,1.5],"nice":false,"zero":false},"axis":{"orient":"bottom","ticks":false,"domain":false,"values":[0,0.5,1,1.5],"format":".1~f","labelPadding":3,"title":"time (μs)","titleFontSize":27,"titlePadding":-3}},
"y":{"field":"y","type":"quantitative","scale":{"domain":[0.024,0.322],"nice":false,"zero":false},"axis":{"orient":"left","ticks":false,"domain":false,"values":[0.1,0.2,0.3],"format":".1f","labelPadding":6,"title":"KLʳ̂","titleFontSize":32,"titlePadding":6}},
"color":{"datum":"KLʳ̂","type":"nominal","scale":{"domain":["KLʳ̂"],"range":["#ff00ff"]},"legend":{"title":null,"symbolType":"circle","symbolSize":14,"symbolOffset":10,"labelOffset":22}}}},
{"data":{"values":[{"y":0.0613,"a":0,"b":1.5}]},
"mark":{"type":"rule","color":"black","strokeDash":[15,7],"strokeWidth":2},
"encoding":{"x":{"field":"a","type":"quantitative","scale":{"domain":[0,1.5],"nice":false,"zero":false},"axis":{"orient":"bottom","labels":false,"domain":false,"title":null,"values":[0,0.25,0.5,0.75,1,1.25,1.5],"tickSize":{"condition":{"test":"abs(datum.value*2-round(datum.value*2))<0.001","value":-13},"value":-7},"tickWidth":1.5,"tickColor":"black"}},"x2":{"field":"b"},
"y":{"field":"y","type":"quantitative","scale":{"domain":[0.024,0.322],"nice":false,"zero":false},"axis":{"orient":"left","labels":false,"domain":false,"title":null,"values":[0.05,0.1,0.15,0.2,0.25,0.3],"tickSize":{"condition":{"test":"abs(datum.value*10-round(datum.value*10))<0.001","value":-13},"value":-7},"tickWidth":1.5,"tickColor":"black"}}}},
{"data":{"values":[{"y":0.287,"a":0,"b":1.5}]},
"mark":{"type":"rule","color":"#00ee00","strokeDash":[15,7],"strokeWidth":2},
"encoding":{"x":{"field":"a","type":"quantitative","scale":{"domain":[0,1.5],"nice":false,"zero":false},"axis":{"orient":"top","labels":false,"domain":false,"title":null,"values":[0,0.25,0.5,0.75,1,1.25,1.5],"tickSize":{"condition":{"test":"abs(datum.value*2-round(datum.value*2))<0.001","value":-13},"value":-7},"tickWidth":1.5,"tickColor":"black"}},"x2":{"field":"b"},
"y":{"field":"y","type":"quantitative","scale":{"domain":[0.024,0.322],"nice":false,"zero":false},"axis":{"orient":"right","labels":false,"domain":false,"title":null,"values":[0.05,0.1,0.15,0.2,0.25,0.3],"tickSize":{"condition":{"test":"abs(datum.value*10-round(datum.value*10))<0.001","value":-13},"value":-7},"tickWidth":1.5,"tickColor":"black"}}}}
]}
]}
]
}
